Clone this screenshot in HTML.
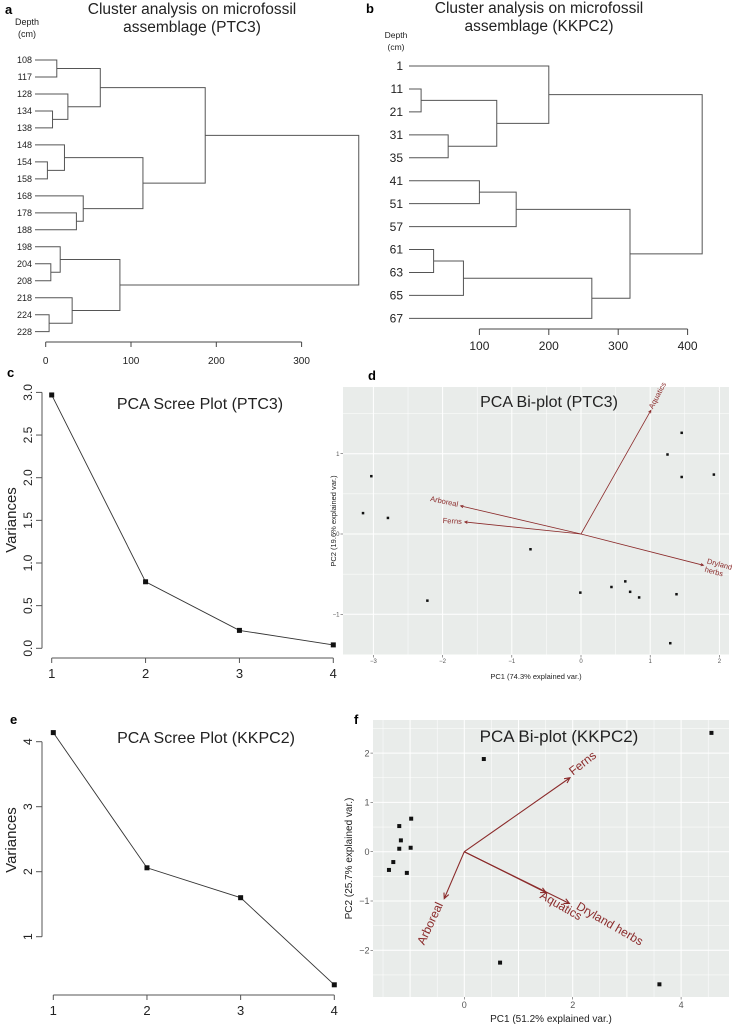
<!DOCTYPE html>
<html><head><meta charset="utf-8">
<style>
html,body{margin:0;padding:0;background:#fff;}
svg{display:block;font-family:"Liberation Sans",sans-serif;}
</style></head>
<body>
<svg id="fig" width="732" height="1026" viewBox="0 0 732 1026" xmlns="http://www.w3.org/2000/svg">
<text x="5" y="14" font-size="13" font-weight="bold">a</text>
<text x="192" y="14" font-size="15.5" text-anchor="middle" fill="#222">Cluster analysis on microfossil</text>
<text x="192" y="32" font-size="15.5" text-anchor="middle" fill="#222">assemblage (PTC3)</text>
<text x="27" y="25" font-size="9" text-anchor="middle" fill="#222">Depth</text>
<text x="27" y="37" font-size="9" text-anchor="middle" fill="#222">(cm)</text>

<text x="366" y="13" font-size="13" font-weight="bold">b</text>
<text x="539" y="13" font-size="15.5" text-anchor="middle" fill="#222">Cluster analysis on microfossil</text>
<text x="539" y="31" font-size="15.5" text-anchor="middle" fill="#222">assemblage (KKPC2)</text>
<text x="396" y="38" font-size="8.5" text-anchor="middle" fill="#222">Depth</text>
<text x="396" y="50" font-size="8.5" text-anchor="middle" fill="#222">(cm)</text>

<text x="7" y="377" font-size="13" font-weight="bold">c</text>
<text x="200" y="409" font-size="16" text-anchor="middle" fill="#222">PCA Scree Plot (PTC3)</text>
<text transform="translate(16,520) rotate(-90)" font-size="15" text-anchor="middle" fill="#222">Variances</text>

<text x="368" y="380" font-size="13" font-weight="bold">d</text>
<text x="10" y="724" font-size="13" font-weight="bold">e</text>
<text x="206" y="743" font-size="16" text-anchor="middle" fill="#222">PCA Scree Plot (KKPC2)</text>
<text transform="translate(16,840) rotate(-90)" font-size="15" text-anchor="middle" fill="#222">Variances</text>
<text x="354" y="724" font-size="13" font-weight="bold">f</text>
</svg>
<script>
// ---------- DATA ----------
const aLeaves = ["108","117","128","134","138","148","154","158","168","178","188","198","204","208","218","224","228"];
const aMerges = [[-7,-8,2],[-16,-17,4],[-13,-14,6],[-4,-5,8],[-1,-2,13],[-12,3,17],[-6,1,22],[-3,4,26],[-15,2,31],[-10,-11,36],[-9,10,44],[5,8,64],[6,9,87],[7,11,114],[12,14,187],[15,13,367]];
const aTicks = [0,100,200,300];

const bLeaves = ["1","11","21","31","35","41","51","57","61","63","65","67"];
const bMerges = [[-2,-3,16],[-9,-10,34],[-4,-5,55],[2,-11,77],[-6,-7,100],[1,3,125],[5,-8,153],[-1,6,200],[4,-12,262],[7,9,317],[8,10,421]];
const bTicks = [100,200,300,400];

const cComponents = [1,2,3,4];
const cVariances = [2.97,0.78,0.21,0.04];
const cYTicks = ["0.0","0.5","1.0","1.5","2.0","2.5","3.0"];

const eComponents = [1,2,3,4];
const eVariances = [4.14,2.06,1.6,0.26];
const eYTicks = [1,2,3,4];

const dPointsPC1 = [1.455,1.25,1.455,1.92,-3.03,-3.15,-2.79,-0.73,-2.22,-0.01,0.44,0.64,0.71,0.84,1.38,1.29];
const dPointsPC2 = [1.26,0.99,0.71,0.74,0.72,0.26,0.2,-0.19,-0.83,-0.73,-0.66,-0.59,-0.72,-0.79,-0.75,-1.36];
const dVarNames = ["Aquatics","Arboreal","Ferns","Dryland herbs"];
const dVarPC1 = [1.01,-1.74,-1.68,1.77];
const dVarPC2 = [1.54,0.35,0.15,-0.39];
const dXTicks = [-3,-2,-1,0,1,2];
const dYTicks = [-1,0,1];

const fPointsPC1 = [4.56,0.36,-0.98,-1.2,-1.17,-1.2,-0.99,-1.31,-1.39,-1.06,0.66,3.6];
const fPointsPC2 = [2.41,1.88,0.67,0.52,0.23,0.06,0.08,-0.21,-0.37,-0.43,-2.25,-2.69];
const fVarNames = ["Ferns","Arboreal","Aquatics","Dryland herbs"];
const fVarPC1 = [1.95,-0.37,1.51,1.94];
const fVarPC2 = [1.5,-0.95,-0.83,-1.05];
const fXTicks = [0,2,4];
const fYTicks = [-2,-1,0,1,2];

// ---------- HELPERS ----------
const NS="http://www.w3.org/2000/svg";
const svg=document.getElementById('fig');
function mk(tag,attrs,parent){const e=document.createElementNS(NS,tag);for(const k in attrs)e.setAttribute(k,attrs[k]);(parent||svg).appendChild(e);return e;}
function txt(x,y,s,size,attrs,parent){const e=mk('text',Object.assign({x:x,y:y,'font-size':size},attrs||{}),parent);e.textContent=s;return e;}

// ---------- DENDROGRAM ----------
function dendro(leaves,merges,ticks,o){
  const g=mk('g',{});
  
  
  const X=h=>o.x0+h*o.k;
  const leafY=i=>o.y0+i*o.dy;
  leaves.forEach((l,i)=>{
    const t=txt(o.labelX,leafY(i)+o.fs*0.35,l,o.fs,{'text-anchor':'end',fill:'#222'},g);
    
    
  });
  const nodes=[];
  const pos=id=>id<0?{x:o.leafX,y:leafY(-id-1)}:nodes[id-1];
  merges.forEach(m=>{
    const a=pos(m[0]),b=pos(m[1]),x=X(m[2]);
    const p=mk('path',{d:`M${a.x},${a.y}H${x}V${b.y}H${b.x}`,fill:'none',stroke:'#555','stroke-width':1},g);
    
    
    nodes.push({x:x,y:(a.y+b.y)/2});
  });
  const ax=mk('line',{x1:X(ticks[0]),x2:X(ticks[ticks.length-1]),y1:o.axY,y2:o.axY,stroke:'#444'},g);
  
  
  ticks.forEach(t=>{
    mk('line',{x1:X(t),x2:X(t),y1:o.axY,y2:o.axY+o.tl,stroke:'#444'},g);
    const tl=txt(X(t),o.labY,String(t),o.tfs,{'text-anchor':'middle',fill:'#222'},g);
    
    
  });
}
dendro(aLeaves,aMerges,aTicks,{name:'dendrogram-ptc3',x0:45.7,k:0.853,leafX:35,y0:60,dy:16.98,labelX:32,fs:9,axY:342,tl:5,labY:364,tfs:10});
dendro(bLeaves,bMerges,bTicks,{name:'dendrogram-kkpc2',x0:410,k:0.694,leafX:409,y0:66,dy:22.94,labelX:403,fs:12,axY:329,tl:6,labY:350,tfs:12});

// ---------- SCREE ----------
function scree(comp,vals,yticks,o){
  const g=mk('g',{});
  
  
  const X=c=>o.x1+(c-1)*(o.x4-o.x1)/3;
  const Y=v=>o.yb-(v-o.vb)*o.ky;
  const yl=mk('line',{x1:o.axX,x2:o.axX,y1:Y(Number(yticks[0])),y2:Y(Number(yticks[yticks.length-1])),stroke:'#555'},g);
  
  
  yticks.forEach(t=>{
    const y=Y(Number(t));
    mk('line',{x1:o.axX-6,x2:o.axX,y1:y,y2:y,stroke:'#555'},g);
    const tl=txt(0,0,String(t),12,{transform:`translate(${o.axX-10},${y}) rotate(-90)`,'text-anchor':'middle',fill:'#222'},g);
    
    
  });
  const xl=mk('line',{x1:X(comp[0]),x2:X(comp[comp.length-1]),y1:o.axY,y2:o.axY,stroke:'#555'},g);
  
  
  comp.forEach(c=>{
    mk('line',{x1:X(c),x2:X(c),y1:o.axY,y2:o.axY+5,stroke:'#555'},g);
    const tl=txt(X(c),o.axY+20,String(c),13,{'text-anchor':'middle',fill:'#222'},g);
    
    
  });
  const pts=comp.map((c,i)=>X(c)+','+Y(vals[i])).join(' ');
  const pl=mk('polyline',{points:pts,fill:'none',stroke:'#333','stroke-width':0.9},g);
  
  
  comp.forEach((c,i)=>{
    const r=mk('rect',{x:X(c)-2.5,y:Y(vals[i])-2.5,width:5,height:5,fill:'#111'},g);
    
    
  });
}
scree(cComponents,cVariances,cYTicks,{name:'scree-ptc3',x1:51.7,x4:333.3,yb:648.3,vb:0,ky:85.3,axX:42,axY:658});
scree(eComponents,eVariances,eYTicks,{name:'scree-kkpc2',x1:53.3,x4:334.3,yb:936.7,vb:1,ky:65,axX:42,axY:995});

// ---------- BIPLOT ----------
function biplot(px,py,vn,vx,vy,xt,yt,o){
  const g=mk('g',{});
  
  
  const X=v=>o.ox+v*o.kx, Y=v=>o.oy-v*o.ky;
  const bg=mk('rect',{x:o.l,y:o.t,width:o.r-o.l,height:o.b-o.t,fill:'#e9ecea'},g);
  
  
  const step=o.step;
  for(let v=Math.ceil((o.l-o.ox)/o.kx/(step/2))*(step/2); X(v)<=o.r; v+=step/2){
    const major=Math.abs(v/step-Math.round(v/step))<1e-6;
    mk('line',{x1:X(v),x2:X(v),y1:o.t,y2:o.b,stroke:'#fff','stroke-width':major?1:0.5},g);
  }
  for(let v=Math.ceil((o.oy-o.b)/o.ky/(step/2))*(step/2); Y(v)>=o.t; v+=step/2){
    const major=Math.abs(v/step-Math.round(v/step))<1e-6;
    mk('line',{x1:o.l,x2:o.r,y1:Y(v),y2:Y(v),stroke:'#fff','stroke-width':major?1:0.5},g);
  }
  xt.forEach(t=>{
    mk('line',{x1:X(t),x2:X(t),y1:o.b,y2:o.b+2.5,stroke:'#555','stroke-width':0.6},g);
    const tl=txt(X(t),o.b+o.tfs+2,String(t).replace('-','−'),o.tfs,{'text-anchor':'middle',fill:'#555'},g);
    
    
  });
  yt.forEach(t=>{
    mk('line',{x1:o.l-2.5,x2:o.l,y1:Y(t),y2:Y(t),stroke:'#555','stroke-width':0.6},g);
    const tl=txt(o.l-3.5,Y(t)+o.tfs*0.35,String(t).replace('-','−'),o.tfs,{'text-anchor':'end',fill:'#555'},g);
    
    
  });
  const xl=txt((o.l+o.r)/2,o.xlabY,o.xlab,o.lfs,{'text-anchor':'middle',fill:'#222'},g);
  
  
  const ylb=txt(0,0,o.ylab,o.lfs,{transform:`translate(${o.ylabX},${(o.t+o.b)/2}) rotate(-90)`,'text-anchor':'middle',fill:'#222'},g);
  
  
  const ti=txt(o.titleX,o.titleY,o.title,o.titlefs,{'text-anchor':'middle',fill:'#222'},g);
  
  
  px.forEach((v,i)=>{
    const r=mk('rect',{x:X(v)-o.ps/2,y:Y(py[i])-o.ps/2,width:o.ps,height:o.ps,fill:'#111'},g);
    
    
  });
  const col='#8b2b2b';
  vn.forEach((n,i)=>{
    const x2=X(vx[i]),y2=Y(vy[i]),x1=X(0),y1=Y(0);
    const ang=Math.atan2(y2-y1,x2-x1);
    const hl=o.head;
    const a=mk('path',{d:`M${x1},${y1}L${x2},${y2}M${x2-hl*Math.cos(ang-0.45)},${y2-hl*Math.sin(ang-0.45)}L${x2},${y2}L${x2-hl*Math.cos(ang+0.45)},${y2-hl*Math.sin(ang+0.45)}`,fill:'none',stroke:col,'stroke-width':o.aw},g);
    
    
    const L=o.labels[i];
    const t=mk('text',{transform:`translate(${x2+L[0]},${y2+L[1]}) rotate(${L[2]})`,'font-size':o.vfs,fill:col,'text-anchor':L[3]},g);
    
    
    const parts=L[4]?n.split(' '):[n];
    parts.forEach((p,j)=>{const ts=mk('tspan',{x:0,dy:j?o.vfs*1.15:0},t);ts.textContent=p;});
  });
}
biplot(dPointsPC1,dPointsPC2,dVarNames,dVarPC1,dVarPC2,dXTicks,dYTicks,{
  name:'biplot-ptc3',ox:581,oy:534,kx:69.2,ky:80.3,l:343,r:729,t:387,b:655,step:1,
  tfs:6,lfs:7.5,xlab:'PC1 (74.3% explained var.)',xlabY:679,ylab:'PC2 (19.6% explained var.)',ylabX:336,
  title:'PCA Bi-plot (PTC3)',titleX:549,titleY:407,titlefs:16,ps:2.5,head:3,aw:0.8,vfs:7.5,
  labels:[[2,-1,-62,'start',false],[-3,1,12,'end',false],[-3,2,3,'end',false],[3,-2,15,'start',true]]
});
biplot(fPointsPC1,fPointsPC2,fVarNames,fVarPC1,fVarPC2,fXTicks,fYTicks,{
  name:'biplot-kkpc2',ox:464.3,oy:851.7,kx:54.2,ky:49.3,l:373,r:729,t:720,b:997,step:1,
  tfs:9,lfs:10,xlab:'PC1 (51.2% explained var.)',xlabY:1022,ylab:'PC2 (25.7% explained var.)',ylabX:352,
  title:'PCA Bi-plot (KKPC2)',titleX:559,titleY:742,titlefs:17,ps:4,head:6,aw:1.1,vfs:12,
  labels:[[3,-2,-38,'start',false],[-1,6,-65,'end',false],[-7,5,30,'start',false],[6,5,30,'start',false]]
});
</script>
</body></html>
